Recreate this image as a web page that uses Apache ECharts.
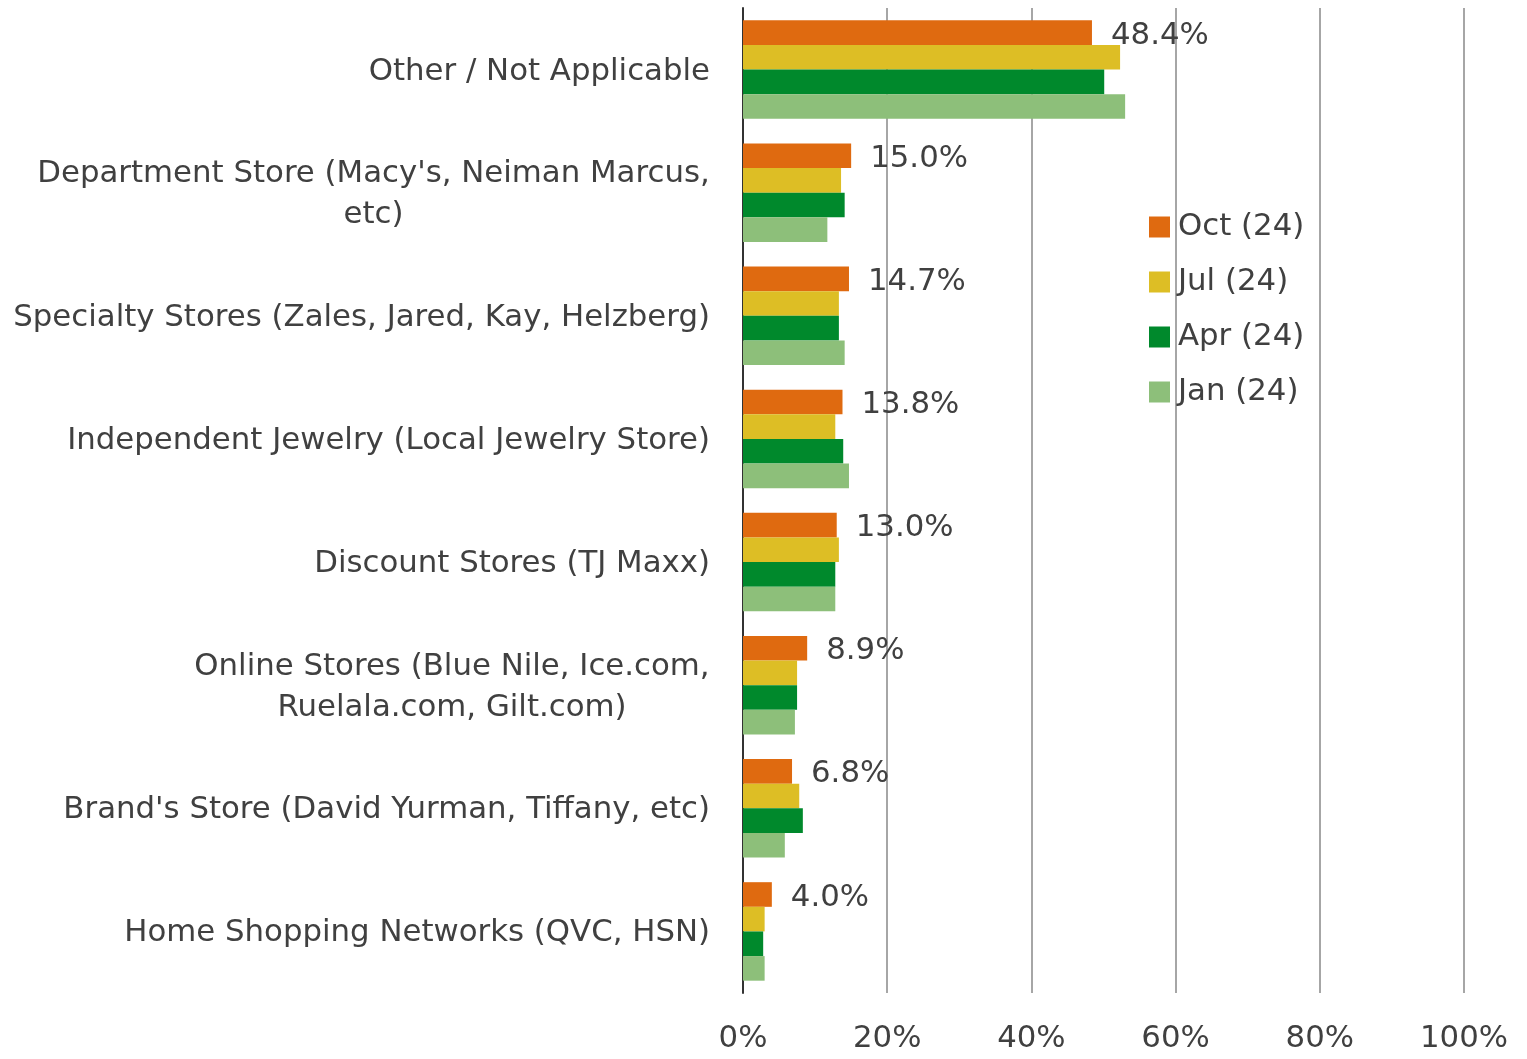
<!DOCTYPE html>
<html>
<head>
<meta charset="utf-8">
<title>Store types</title>
<script src="https://cdn.jsdelivr.net/npm/echarts@6/dist/echarts.min.js"></script>
<style>
  html, body { margin: 0; padding: 0; background: #ffffff; }
  #chart { width: 1527px; height: 1059px; }
</style>
</head>
<body>
<div id="chart"></div>
<script>
var categories = [
  "Other / Not Applicable",
  "Department Store (Macy's, Neiman Marcus,\netc)",
  "Specialty Stores (Zales, Jared, Kay, Helzberg)",
  "Independent Jewelry (Local Jewelry Store)",
  "Discount Stores (TJ Maxx)",
  "Online Stores (Blue Nile, Ice.com,\nRuelala.com, Gilt.com)",
  "Brand's Store (David Yurman, Tiffany, etc)",
  "Home Shopping Networks (QVC, HSN)"
];
var seriesNames = ["Oct (24)", "Jul (24)", "Apr (24)", "Jan (24)"];
var oct = [48.4, 15.0, 14.7, 13.8, 13.0, 8.9, 6.8, 4.0];
var jul = [52.3, 13.6, 13.3, 12.8, 13.3, 7.5, 7.8, 3.0];
var apr = [50.1, 14.1, 13.3, 13.9, 12.8, 7.5, 8.3, 2.8];
var jan = [53.0, 11.7, 14.1, 14.7, 12.8, 7.2, 5.8, 3.0];
var xTicks = [0, 20, 40, 60, 80, 100];

var colors = ["#DF6A10", "#DDBE25", "#00892C", "#8DBF7A"];
var textColor = "#404040";
var fontFamily = "DejaVu Sans";
var fontSize = 30.8;

// 多行标签：每行居中，整体右对齐
var ctx = document.createElement("canvas").getContext("2d");
ctx.font = fontSize + "px '" + fontFamily + "'";
var rich = {};
var labelText = {};
categories.forEach(function (c, i) {
  var lines = c.split("\n");
  if (lines.length > 1) {
    var w = Math.max.apply(null, lines.map(function (l) { return ctx.measureText(l).width; }));
    rich["c" + i] = { width: Math.ceil(w), align: "center", fontSize: fontSize, fontFamily: fontFamily, color: textColor, lineHeight: 41 };
    labelText[c] = lines.map(function (l) { return "{c" + i + "|" + l + "}"; }).join("\n");
  }
});

var chart = echarts.init(document.getElementById("chart"));
var data = [oct, jul, apr, jan];

var option = {
  animation: false,
  color: colors,
  grid: { left: 743, right: 63, top: 8, bottom: 66, containLabel: false },
  legend: {
    orient: "vertical",
    left: 1149,
    top: 210,
    padding: 0,
    itemWidth: 21,
    itemHeight: 21,
    itemGap: 21,
    icon: "rect",
    data: seriesNames,
    textStyle: { fontSize: fontSize, fontFamily: fontFamily, color: textColor, lineHeight: 34, padding: [0, 0, 0, 3] }
  },
  xAxis: {
    type: "value",
    min: xTicks[0],
    max: xTicks[xTicks.length - 1],
    interval: 20,
    axisLine: { show: false },
    axisTick: { show: false },
    splitLine: { lineStyle: { color: "#A6A6A6", width: 2 } },
    axisLabel: {
      margin: 30,
      fontSize: fontSize,
      fontFamily: fontFamily,
      color: textColor,
      formatter: "{value}%"
    }
  },
  yAxis: {
    type: "category",
    inverse: true,
    data: categories,
    axisTick: { show: false },
    axisLine: { lineStyle: { color: "#333333", width: 2 } },
    axisLabel: {
      margin: 33,
      fontSize: fontSize,
      fontFamily: fontFamily,
      color: textColor,
      lineHeight: 41,
      padding: [4, 0, 0, 0],
      rich: rich,
      formatter: function (v) { return labelText[v] || v; }
    }
  },
  series: seriesNames.map(function (name, i) {
    var s = {
      name: name,
      type: "bar",
      data: data[i],
      barGap: "0%",
      barCategoryGap: "20%",
      itemStyle: { color: colors[i] }
    };
    if (i === 0) {
      s.label = {
        show: true,
        position: "right",
        distance: 19,
        offset: [0, 3],
        fontSize: fontSize,
        fontFamily: fontFamily,
        color: textColor,
        formatter: function (p) { return p.value.toFixed(1) + "%"; }
      };
    }
    return s;
  })
};

chart.setOption(option);
</script>
</body>
</html>
